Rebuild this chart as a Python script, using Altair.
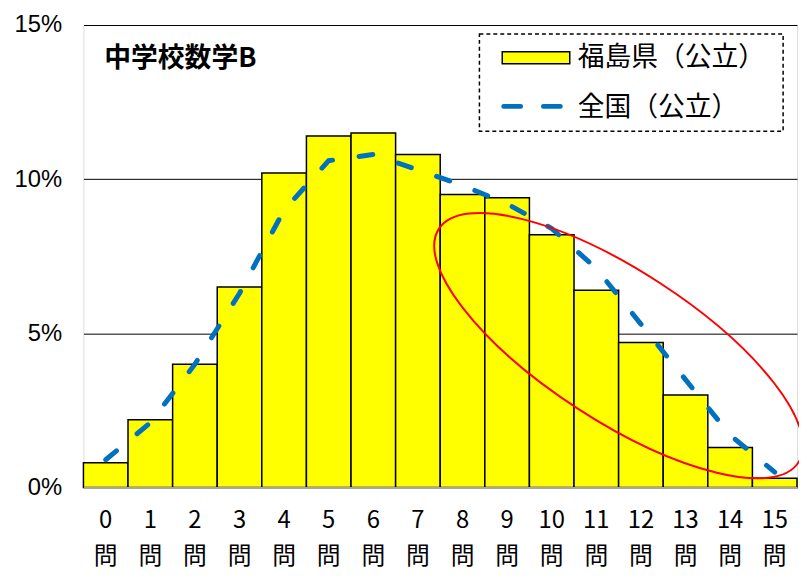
import altair as alt
import pandas as pd

# ---- data ----
questions = ["0", "1", "2", "3", "4", "5", "6", "7", "8", "9", "10", "11", "12", "13", "14", "15"]
fukushima = [0.8, 2.2, 4.0, 6.5, 10.2, 11.4, 11.5, 10.8, 9.5, 9.4, 8.2, 6.4, 4.7, 3.0, 1.3, 0.3]
national = [0.9, 2.1, 4.0, 6.3, 9.0, 10.6, 10.8, 10.3, 9.8, 9.2, 8.4, 7.1, 5.3, 3.5, 1.7, 0.5]
y_ticks = [0, 5, 10, 15]
title_text = "中学校数学B"
legend_labels = ["福島県（公立）", "全国（公立）"]
# highlight ellipse (annotation) anchored at the 11/12 boundary, ~4.6%
ellipse_at = {"q": "12", "v": 4.6}

FONT = "Noto Sans CJK JP"
NUMFONT = "Liberation Sans"
BLUE = "#0070C0"

df = pd.DataFrame({"q": questions, "fk": fukushima, "nat": national})

W, H = 719, 466

x_enc = alt.X("q:N", sort=questions,
              scale=alt.Scale(paddingInner=0, paddingOuter=0),
              axis=alt.Axis(title=None, labelAngle=0, ticks=False,
                            labelExpr="[datum.label, '問']",
                            labelFont=FONT, labelFontSize=24, labelColor="#000",
                            labelLineHeight=37, labelPadding=21,
                            domainColor="#A6A6A6", domainWidth=2, zindex=1))
y_scale = alt.Scale(domain=[0, 15], nice=False)
y_axis = alt.Axis(title=None, values=y_ticks, labelExpr="datum.value + '%'",
                  ticks=False, domain=False, grid=True, gridColor="#000",
                  gridWidth=1, labelFont=NUMFONT, labelFontSize=24, labelColor="#000",
                  labelPadding=22)

bars = alt.Chart(df).mark_bar(fill="#FFFF00", stroke="#000", strokeWidth=1.5).encode(
    x=x_enc,
    y=alt.Y("fk:Q", scale=y_scale, axis=y_axis),
)

line = alt.Chart(df).mark_line(color=BLUE, strokeWidth=5, strokeDash=[14, 27],
                               strokeCap="round").encode(
    x=alt.X("q:N", sort=questions),
    y=alt.Y("nat:Q"),
)

ell_df = pd.DataFrame([ellipse_at])
ellipse = alt.Chart(ell_df).mark_point(
    shape="M -1 0 A 1 0.35 0 1 0 1 0 A 1 0.35 0 1 0 -1 0",
    size=432 * 432, angle=33, filled=False, stroke="#FF0000",
    strokeWidth=2, opacity=1).encode(
    x=alt.X("q:N", sort=questions, bandPosition=0),
    y=alt.Y("v:Q"),
)

one = pd.DataFrame({"a": [0]})

title = alt.Chart(one).mark_text(text=title_text, font=FONT, fontSize=27,
                                 fontWeight="bold", align="left", baseline="middle",
                                 color="#000").encode(
    x=alt.value(21), y=alt.value(34))

box = alt.Chart(one).mark_rect(fill="white", stroke="#000", strokeWidth=1.5,
                               strokeDash=[4, 3]).encode(
    x=alt.value(399), x2=alt.value(705), y=alt.value(9), y2=alt.value(107))

swatch = alt.Chart(one).mark_rect(fill="#FFFF00", stroke="#000", strokeWidth=1.5).encode(
    x=alt.value(422), x2=alt.value(490), y=alt.value(27), y2=alt.value(39))

leg_line = alt.Chart(one).mark_rule(color=BLUE, strokeWidth=5, strokeDash=[17, 23],
                                    strokeCap="round").encode(
    x=alt.value(423.5), x2=alt.value(480.5), y=alt.value(82))

leg_t1 = alt.Chart(one).mark_text(text=legend_labels[0], font=FONT, fontSize=27,
                                  align="left", baseline="middle", color="#000").encode(
    x=alt.value(498), y=alt.value(33))
leg_t2 = alt.Chart(one).mark_text(text=legend_labels[1], font=FONT, fontSize=27,
                                  align="left", baseline="middle", color="#000").encode(
    x=alt.value(498), y=alt.value(84))

chart = alt.layer(bars, line, ellipse, title, box, swatch, leg_line, leg_t1, leg_t2).properties(
    width=W, height=H,
    autosize=alt.AutoSizeParams(type="none"),
    padding={"top": 15, "left": 76, "right": 2, "bottom": 83},
).configure_view(stroke="#000", strokeWidth=1.5).configure(background="white")

chart.save("out.html", embed_options={"renderer": "svg", "actions": False})
